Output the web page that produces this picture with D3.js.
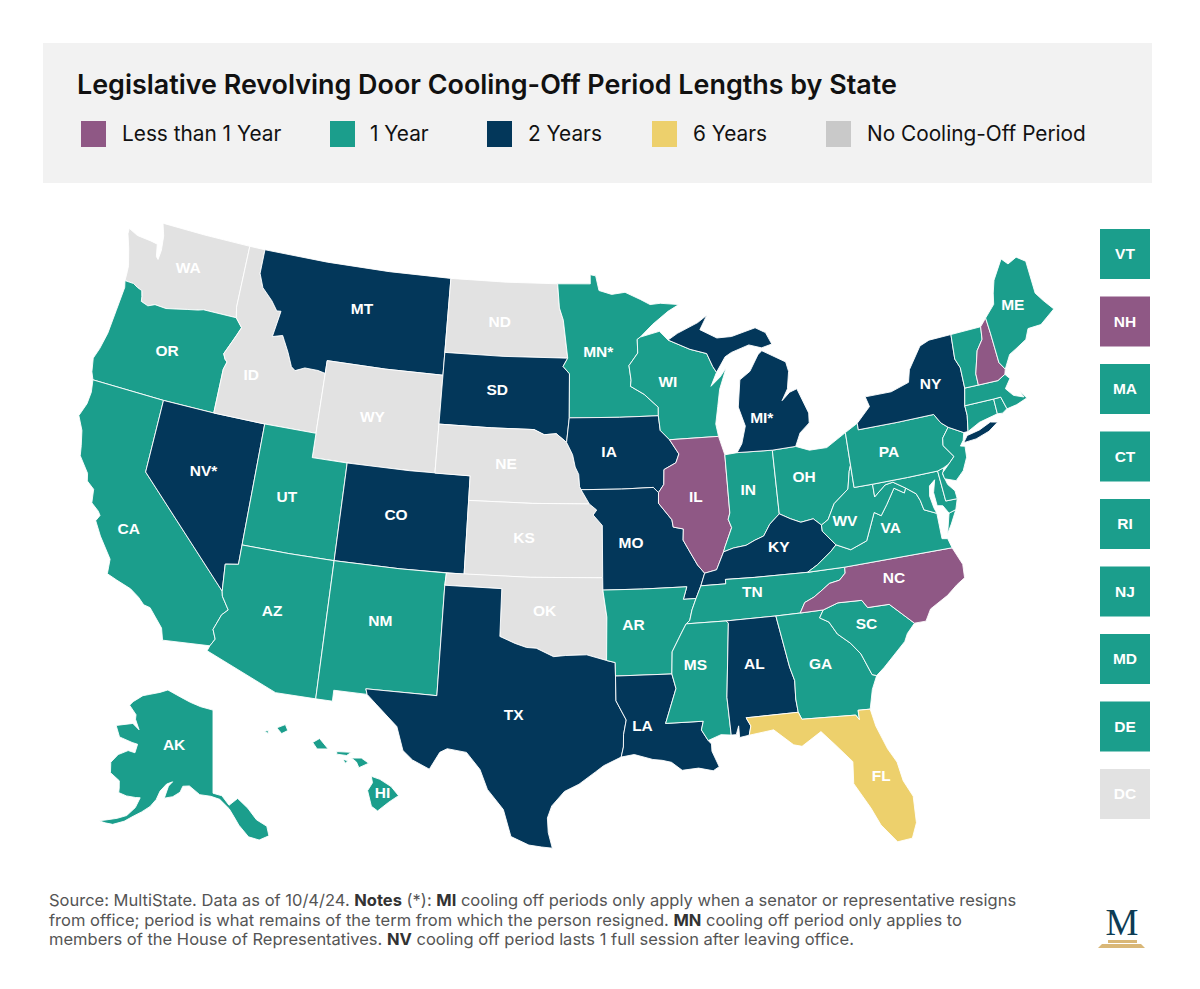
<!DOCTYPE html>
<html>
<head>
<meta charset="utf-8">
<title>Legislative Revolving Door Cooling-Off Period Lengths by State</title>
<script src="https://cdn.jsdelivr.net/npm/d3@7"></script>
<style>
    html, body { margin: 0; padding: 0; background: #fff; }
    svg { display: block; }
    text { font-family: "Inter", "Noto Sans", sans-serif; }
    .state { stroke: #fff; stroke-width: 0.9; stroke-linejoin: round; }
    .state-label, .side-label { font-family: "Liberation Sans", Arial, sans-serif; font-weight: 700; fill: #fff; text-anchor: middle; }
</style>
</head>
<body>
<div id="chart"></div>
<script>
// chart values
const periods = ["Less than 1 Year", "1 Year", "2 Years", "6 Years", "No Cooling-Off Period"];
const lessThanOneYear = ["IL", "NC", "NH"];
const oneYear = ["OR", "CA", "UT", "AZ", "NM", "AK", "HI", "MN", "WI", "AR", "MS", "TN", "IN", "OH", "GA", "SC", "WV", "VA", "PA", "ME", "VT", "MA", "CT", "RI", "NJ", "MD", "DE"];
const twoYears = ["MT", "SD", "CO", "NV", "IA", "MO", "LA", "TX", "AL", "KY", "MI", "NY"];
const sixYears = ["FL"];
const noPeriod = ["WA", "ID", "WY", "ND", "NE", "KS", "OK", "DC"];
const sideStates = ["VT", "NH", "MA", "CT", "RI", "NJ", "MD", "DE", "DC"];
const asterisked = ["MN", "MI", "NV"];
const notes = [
    [["Source: MultiState. Data as of 10/4/24. ", 0], ["Notes", 1], [" (*): ", 0], ["MI", 1], [" cooling off periods only apply when a senator or representative resigns", 0]],
    [["from office; period is what remains of the term from which the person resigned. ", 0], ["MN", 1], [" cooling off period only applies to", 0]],
    [["members of the House of Representatives. ", 0], ["NV", 1], [" cooling off period lasts 1 full session after leaving office.", 0]]
];

// state outlines, lon/lat. shared borders first so neighbours line up
const rev = a => a.slice().reverse();
const columbia = [[-124.05,46.27],[-123.5,46.26],[-123.2,46.15],[-122.9,46.08],[-122.8,45.85],[-122.75,45.65],[-122.3,45.55],[-121.9,45.68],[-121.2,45.65],[-120.6,45.74],[-119.9,45.85],[-119.3,45.93],[-118.98,46],[-116.92,46]];
const snake = [[-116.92,46],[-116.48,45.65],[-116.67,45.32],[-116.85,45.02],[-117.2,44.45],[-117.05,44.24],[-116.9,44.15],[-117.03,43.83],[-117.03,42]];
const idMt = [[-116.05,49],[-116.05,48],[-115.7,47.45],[-115,47],[-114.58,46.63],[-114.32,46.65],[-114.55,45.56],[-113.95,45.69],[-113.8,45.5],[-113.45,45.05],[-113.1,44.5],[-112.85,44.37],[-112.3,44.55],[-111.5,44.54],[-111.05,44.47]];
const colorado = [[-114.63,35],[-114.57,34.8],[-114.14,34.3],[-114.43,34.05],[-114.72,33.4],[-114.52,33.03],[-114.72,32.72]];
const pacificOR = [[-124.05,46.27],[-123.95,46],[-124.05,45],[-124.15,44],[-124.35,43.3],[-124.55,42.85],[-124.4,42.3],[-124.21,42]];
const pacificCA = [[-124.21,42],[-124.1,41.5],[-124.15,41],[-124.4,40.44],[-124,39.9],[-123.8,39.3],[-123.7,38.9],[-123.05,38.3],[-122.95,38],[-122.5,37.75],[-122.4,37.2],[-121.95,36.95],[-121.8,36.8],[-121.95,36.55],[-121.5,36],[-120.7,35.2],[-120.65,34.6],[-120.1,34.45],[-119.3,34.25],[-118.8,34],[-118.45,33.75],[-118.1,33.7],[-117.3,33],[-117.12,32.53]];
const rioGrande = [[-97.15,25.96],[-97.65,26],[-98.25,26.07],[-99.1,26.4],[-99.5,27.5],[-100.3,28.3],[-100.7,29.1],[-101.4,29.77],[-102.35,29.87],[-102.7,29.7],[-103.15,28.98],[-104,29.3],[-104.5,29.65],[-104.9,30.6],[-106,31.4],[-106.53,31.78]];
const redRiver = [[-100,34.56],[-99.2,34.3],[-98.6,34.15],[-98.1,34.13],[-97.2,33.8],[-96.6,33.85],[-95.5,33.88],[-94.48,33.64]];
const sabine = [[-94.04,33],[-94.04,31.99],[-93.55,31.2],[-93.7,30.6],[-93.72,30.1],[-93.84,29.69]];
const missouriIA = [[-96.6,42.5],[-96.25,42],[-96.1,41.5],[-95.9,41.2],[-95.85,40.7],[-95.77,40.58]];
const missouriKS = [[-95.77,40.58],[-95.31,40]];
const neTop = [[-104.05,43],[-101,43],[-98.5,43],[-97.9,42.8],[-97.2,42.85],[-96.6,42.5]];
const sdEast = [[-96.56,45.94],[-96.84,45.6],[-96.45,45.3],[-96.45,43.5]];
const ndEast = [[-97.23,49],[-97.1,48],[-96.85,47.5],[-96.56,45.94]];
const stCroix = [[-92.1,46.75],[-92.29,46.66],[-92.29,46.1],[-92.85,45.6],[-92.75,45],[-92.8,44.75],[-92,44.4],[-91.2,43.85],[-91.22,43.5]];
const missWI = [[-91.22,43.5],[-91.15,42.9],[-90.64,42.5]];
const missIA = [[-90.64,42.5],[-90.15,41.9],[-90.35,41.55],[-91.05,41.3],[-91.1,40.7],[-91.42,40.38]];
const missIL = [[-91.42,40.38],[-91.45,39.95],[-90.75,39.25],[-90.7,38.95],[-90.15,38.85],[-90.2,38.4],[-89.9,37.95],[-89.5,37.35],[-89.15,37]];
const missAR = [[-89.7,36],[-89.95,35.55],[-90.1,35.13],[-90.3,35],[-90.6,34.6],[-91.1,33.9],[-91.17,33]];
const wabash = [[-87.53,41.72],[-87.53,39.35],[-87.65,39.1],[-87.5,38.75],[-87.95,38],[-88.05,37.8]];
const ohioW = [[-89.15,37],[-88.5,37.1],[-88.05,37.8]];
const ohioIN = [[-88.05,37.8],[-87.5,37.92],[-86.8,37.98],[-86.3,38.15],[-85.8,38.28],[-85.4,38.73],[-84.82,39.1]];
const ohioOH = [[-84.82,39.1],[-84.25,38.85],[-83.7,38.65],[-83,38.72],[-82.6,38.42]];
const ohioWV = [[-82.6,38.42],[-82.2,38.6],[-81.75,39.2],[-80.87,39.7],[-80.65,40.4],[-80.52,40.64]];
const tnSouth = [[-90.3,35],[-88.2,35],[-85.6,35],[-84.32,35]];
const tnNC = [[-84.32,35],[-84.02,35.4],[-83.5,35.57],[-83.1,35.77],[-82.6,36.03],[-82.05,36.1],[-81.7,36.35],[-81.68,36.59]];
const scNorth = [[-83.11,35],[-82.3,35.2],[-81.05,35.15],[-80.8,34.82],[-79.67,34.8],[-78.55,33.86]];
const savannah = [[-83.11,35],[-83.35,34.7],[-82.9,34.48],[-82.55,33.95],[-81.95,33.5],[-81.5,33],[-81.1,32.1],[-80.88,32.03]];
const gaAlEdge = [[-85.6,35],[-85.18,32.87],[-85,32.3],[-85.05,31.55],[-85,31]];
const flNorth = [[-85,31],[-84.86,30.7],[-82.2,30.57],[-82.05,30.36],[-82.05,30.75],[-81.45,30.72]];
const delaware = [[-75.35,42],[-75.05,41.6],[-74.7,41.36],[-75.13,40.98],[-75.2,40.68],[-74.73,40.15],[-75.1,39.9],[-75.42,39.8]];
const potomac = [[-76.3,38.05],[-76.95,38.3],[-77.05,38.7],[-77.2,39],[-77.72,39.32]];
const vaWV = [[-77.72,39.32],[-77.83,39.13],[-78.35,39.4],[-78.9,38.8],[-79.3,38.4],[-79.65,38.58],[-80.3,37.5],[-81.22,37.25],[-81.97,37.54]];
const mdWV = [[-77.72,39.32],[-78.35,39.65],[-78.8,39.6],[-79.48,39.2],[-79.48,39.72]];
const kyVA = [[-83.68,36.6],[-83.1,36.85],[-82.3,37.3],[-81.97,37.54]];
const kyTN = [[-89.4,36.5],[-88.07,36.5],[-88.07,36.68],[-86.5,36.65],[-83.68,36.6]];
const nhVT = [[-71.5,45.01],[-71.6,44.5],[-72.05,44.1],[-72.45,43.2],[-72.46,42.73]];
const meNH = [[-71.08,45.3],[-71.03,44.65],[-70.98,43.4],[-70.72,43.07]];
const nyVT = [[-73.34,45.01],[-73.45,44],[-73.25,43.6],[-73.27,42.75]];
const wiMI = [[-90.4,46.57],[-89.1,46.13],[-88.1,45.9],[-87.8,45.35],[-87.6,45.1]];

const stateShapes = {
    WA: [[[-122.76,49],[-120,49],[-117.04,49],[-117.04,46.42]].concat(rev(columbia), [[-124.07,46.65],[-124.1,46.9],[-124.4,47.6],[-124.7,48.15],[-124.72,48.38],[-124.1,48.2],[-123.2,48.15],[-122.75,48.1],[-122.6,47.6],[-122.45,47.5],[-122.4,47.9],[-122.5,48.5]])],
    OR: [columbia.concat(snake, [[-120,42]], rev(pacificOR))],
    CA: [[[-124.21,42],[-120,42],[-120,39]].concat(colorado, rev(pacificCA))],
    NV: [[[-120,42],[-117.03,42],[-114.04,42],[-114.05,37],[-114.05,36.2],[-114.74,36.1],[-114.63,35],[-120,39]]],
    ID: [[[-117.04,49]].concat(idMt, [[-111.05,42],[-114.04,42]], rev(snake), [[-117.04,46.42]])],
    MT: [[[-116.05,49],[-112,49],[-108,49],[-104.05,49],[-104.05,45],[-107.5,45],[-111.05,45]].concat(rev(idMt))],
    WY: [[[-111.05,45],[-107.5,45],[-104.05,45],[-104.05,43],[-104.05,41],[-107.5,41],[-111.05,41],[-111.05,42],[-111.05,44.47]]],
    UT: [[[-114.04,42],[-111.05,42],[-111.05,41],[-109.05,41],[-109.05,37],[-111.5,37],[-114.05,37]]],
    CO: [[[-109.05,41],[-105.5,41],[-102.05,41],[-102.05,40],[-102.05,37],[-105.5,37],[-109.05,37]]],
    AZ: [[[-114.05,37],[-111.5,37],[-109.05,37],[-109.05,31.33],[-111.07,31.33],[-114.81,32.5]].concat(rev(colorado), [[-114.74,36.1],[-114.05,36.2]])],
    NM: [[[-109.05,37],[-105.5,37],[-103,37],[-103.04,36.5],[-103.04,32],[-106.62,32],[-106.53,31.78],[-108.21,31.78],[-108.21,31.33],[-109.05,31.33]]],
    ND: [[[-104.05,49],[-100.5,49]].concat(ndEast, [[-100.5,45.94],[-104.05,45.94]])],
    SD: [[[-104.05,45.94],[-100.5,45.94]].concat(sdEast, rev(neTop))],
    NE: [neTop.concat(missouriIA, missouriKS, [[-98.5,40],[-102.05,40],[-102.05,41],[-104.05,41]])],
    KS: [[[-102.05,40],[-98.5,40],[-95.31,40],[-94.9,39.75],[-95.1,39.55],[-94.6,39.12],[-94.62,37],[-98.5,37],[-102.05,37]]],
    OK: [[[-103,37],[-98.5,37],[-94.62,37],[-94.62,36.5],[-94.43,35.4]].concat(rev(redRiver), [[-100,36.5],[-103.04,36.5]])],
    TX: [[[-103.04,36.5],[-100,36.5]].concat(redRiver, [[-94.04,33.55]], sabine, [[-94.7,29.35],[-95.1,29.1],[-95.9,28.6],[-96.6,28.3],[-97.2,27.7],[-97.4,27.2],[-97.35,26.6]], rioGrande, [[-106.62,32],[-103.04,32]])],
    MN: [[[-97.23,49],[-95.15,49],[-95.15,49.38],[-94.8,49.33],[-94.6,48.72],[-93.8,48.55],[-92.95,48.62],[-92,48.3],[-91.4,48.07],[-90.75,48.1],[-89.6,48],[-90.3,47.75],[-91.3,47.25]].concat(stCroix, [[-93.5,43.5]], rev(sdEast), rev(ndEast))],
    IA: [[[-96.45,43.5],[-93.5,43.5]].concat(missWI, missIA, [[-91.7,40.6],[-93.5,40.58]], rev(missouriIA))],
    MO: [[[-95.77,40.58],[-93.5,40.58],[-91.7,40.6]].concat(missIL, [[-89.4,36.5],[-89.7,36],[-90.37,36],[-90.15,36.5],[-92.5,36.5],[-94.62,36.5],[-94.62,37],[-94.6,39.12],[-95.1,39.55],[-94.9,39.75],[-95.31,40]])],
    AR: [[[-94.62,36.5],[-92.5,36.5],[-90.15,36.5],[-90.37,36]].concat(missAR, [[-94.04,33],[-94.04,33.55],[-94.48,33.64],[-94.43,35.4]])],
    LA: [[[-94.04,33],[-91.17,33],[-91,32.4],[-91.6,31],[-89.73,31],[-89.85,30.65],[-89.55,30.2],[-89.4,30.05],[-89.4,29.75],[-89.1,29.1],[-89.4,28.95],[-90.1,29.1],[-90.9,29.05],[-91.4,29.4],[-91.85,29.5],[-92.3,29.55],[-93.2,29.78]].concat(rev(sabine))],
    WI: [[[-92.1,46.75],[-90.9,46.95],[-90.4,46.57]].concat(wiMI.slice(1), [[-88,44.55],[-87.4,44.9],[-87,45.25],[-87.5,44.4],[-87.7,43.7],[-87.9,43],[-87.8,42.49]], rev(missWI), rev(stCroix))],
    IL: [[[-90.64,42.5],[-87.8,42.49]].concat(wabash, rev(ohioW), rev(missIL), rev(missIA))],
    IN: [[[-87.53,41.72],[-86.82,41.76],[-84.8,41.7]].concat(rev(ohioIN), rev(wabash))],
    OH: [[[-84.8,41.7],[-83.45,41.73],[-82.7,41.5],[-81.7,41.5],[-80.52,41.98],[-80.52,40.64]].concat(rev(ohioWV), rev(ohioOH))],
    MI: [[[-86.82,41.76],[-86.5,42.1],[-86.2,42.8],[-86.5,43.6],[-86.25,44.7],[-85.6,45],[-85,45.65],[-84.75,45.78],[-83.4,45.2],[-83.3,44.8],[-83.5,44.1],[-83.9,43.65],[-83.4,43.95],[-82.95,44.05],[-82.45,43],[-82.5,42.6],[-83.1,42.25],[-83.45,41.73],[-84.8,41.7]],
        [[-90.4,46.57],[-89.8,46.82],[-88.5,47.2],[-87.9,47.47],[-88.4,46.9],[-87.4,46.5],[-86.5,46.5],[-85,46.75],[-84.4,46.5],[-84.1,46],[-84.75,45.9],[-85.5,46.08],[-86.6,45.85],[-87,45.7]].concat(rev(wiMI))],
    KY: [kyTN.concat(kyVA, [[-82.6,38.17]], rev(ohioOH), rev(ohioIN), rev(ohioW))],
    TN: [tnSouth.concat(tnNC, [[-83.68,36.6]], rev(kyTN), [[-89.7,36],[-89.95,35.55],[-90.1,35.13]])],
    MS: [[[-90.3,35],[-88.2,35],[-88.1,34.9],[-88.47,31.9],[-88.4,30.35],[-88.9,30.4],[-89.55,30.2],[-89.85,30.65],[-89.73,31],[-91.6,31],[-91,32.4],[-91.17,33],[-91.1,33.9],[-90.6,34.6]]],
    AL: [[[-88.2,35]].concat(gaAlEdge, [[-87.6,31],[-87.4,30.65],[-87.52,30.28],[-88,30.22],[-88,30.7],[-88.15,30.35],[-88.4,30.35],[-88.47,31.9],[-88.1,34.9]])],
    GA: [[[-85.6,35],[-84.32,35]].concat(savannah, [[-81.2,31.5]], rev(flNorth), rev(gaAlEdge))],
    FL: [[[-87.6,31]].concat(flNorth, [[-81.3,30],[-80.9,29],[-80.55,28.4],[-80.4,27.6],[-80.05,26.9],[-80.1,25.8],[-80.4,25.2],[-81.1,25.15],[-81.75,25.95],[-82.1,26.7],[-82.75,27.8],[-82.65,28.7],[-83.4,29.5],[-84,30.1],[-85,29.6],[-85.4,29.7],[-86.3,30.4],[-87.52,30.28],[-87.4,30.65]])],
    SC: [scNorth.concat([[-79,33.5],[-79.2,33.2],[-79.9,32.7],[-80.45,32.3]], rev(savannah))],
    NC: [[[-84.32,35],[-83.11,35]].concat(scNorth.slice(1), [[-77.95,33.85],[-77.6,34.3],[-76.6,34.7],[-76,35.05],[-75.55,35.25],[-75.5,35.8],[-75.87,36.55],[-81.68,36.59]], rev(tnNC))],
    VA: [[[-83.68,36.6],[-81.68,36.59],[-75.87,36.55],[-76,36.95],[-76.3,37],[-76.3,37.6]].concat(potomac, vaWV, rev(kyVA)), [[-75.25,38.03],[-75.65,37.95],[-75.95,37.15],[-75.65,37.5]]],
    WV: [[[-80.52,40.64],[-80.52,39.72],[-79.48,39.72]].concat(rev(mdWV), vaWV.slice(1), [[-82.6,38.17]], ohioWV)],
    MD: [[[-79.48,39.72],[-77.5,39.72],[-75.79,39.72],[-75.69,38.46],[-75.05,38.45],[-75.25,38.03],[-75.65,37.95],[-75.9,38.3],[-76.2,38.35],[-76.25,38.9],[-76.05,39.4],[-76.4,39.2],[-76.5,38.8],[-76.4,38.3]].concat(potomac, mdWV)],
    DE: [[[-75.79,39.72],[-75.42,39.8],[-75.55,39.55],[-75.4,39.1],[-75.08,38.78],[-75.05,38.45],[-75.69,38.46]]],
    PA: [[[-80.52,41.98],[-79.76,42.27],[-79.76,42],[-77.5,42]].concat(delaware, [[-75.79,39.72],[-77.5,39.72],[-79.48,39.72],[-80.52,39.72],[-80.52,40.64]])],
    NJ: [[[-73.9,41],[-74.7,41.36],[-75.13,40.98],[-75.2,40.68],[-74.73,40.15],[-75.1,39.9],[-75.55,39.6],[-75.5,39.35],[-74.9,39.17],[-74.4,39.5],[-74.05,40],[-74,40.45],[-74.25,40.5],[-74.03,40.7]]],
    NY: [[[-79.76,42.27],[-78.9,42.85],[-79.05,43.27],[-77.5,43.27],[-76.4,43.5],[-76.2,44],[-75.3,44.85],[-74.7,45]].concat(nyVT, [[-73.5,42.05],[-73.49,41.65],[-73.65,41],[-73.9,41],[-74.7,41.36],[-75.05,41.6],[-75.35,42],[-77.5,42],[-79.76,42]]), [[-74.03,40.6],[-73.75,40.85],[-73,40.95],[-72.3,41.15],[-71.9,41.07],[-72.5,40.8],[-73.3,40.63]]],
    CT: [[[-73.5,42.05],[-71.8,42.02],[-71.8,41.4],[-72.9,41.25],[-73.65,41],[-73.49,41.65]]],
    RI: [[[-71.8,42.02],[-71.38,42.02],[-71.2,41.5],[-71.5,41.37],[-71.8,41.4]]],
    MA: [[[-73.5,42.05],[-73.27,42.75],[-72.46,42.73],[-71.3,42.7],[-70.82,42.87],[-70.6,42.65],[-71,42.3],[-70.65,41.95],[-70.1,41.77],[-70.25,42.05],[-69.95,41.7],[-70.6,41.55],[-71.12,41.5],[-71.2,41.5],[-71.38,42.02],[-71.8,42.02]]],
    VT: [rev(nyVT).concat(nhVT)],
    NH: [[[-71.5,45.01],[-71.08,45.3]].concat(meNH.slice(1), [[-70.82,42.87],[-71.3,42.7],[-72.46,42.73]], rev(nhVT))],
    ME: [[[-71.08,45.3],[-70.4,45.75],[-70.25,46.2],[-70,46.7],[-69.23,47.46],[-68.9,47.18],[-68.3,47.35],[-67.8,47.07],[-67.8,45.7],[-67.45,45.3],[-67,44.85],[-68,44.4],[-68.8,44.4],[-69.1,44],[-69.8,43.75],[-70.25,43.6],[-70.72,43.07],[-70.98,43.4],[-71.03,44.65]]],
    AK: [[[-141,69.65],[-145,70],[-148.5,70.4],[-152,70.85],[-156.6,71.35],[-159,70.85],[-162,70.3],[-164,69.9],[-166.2,68.87],[-166.8,68.35],[-164,67.6],[-163.7,67.1],[-161.8,66.1],[-164,66.55],[-168.1,65.65],[-166.1,64.6],[-162.5,64.5],[-161,64.5],[-161,63.5],[-162.8,63.5],[-164.8,62.7],[-165.8,61.6],[-165,60.5],[-162.5,59.98],[-162,59.2],[-161.8,58.7],[-160,58.6],[-158,58.7],[-157,58.8],[-157.5,57.6],[-158.8,56.5],[-160.5,55.9],[-162.5,55.35],[-163.8,55],[-162.5,55],[-161,55.1],[-159,55.8],[-157.5,56.6],[-156,57.3],[-154.5,58.1],[-153.5,59],[-153,60],[-151.8,60.9],[-150.5,61.25],[-151.3,60.7],[-151.8,59.3],[-150,59.6],[-148.5,60.2],[-148,60.9],[-146.5,61],[-144,60.1],[-141.5,59.95],[-139.5,59.6],[-137.5,58.5],[-136.6,57.6],[-135.7,56.6],[-134,55.2],[-132,54.7],[-130,55],[-130.1,56.1],[-132,57],[-133.5,58.4],[-135.5,59.6],[-137.5,58.9],[-139,60],[-141,60.3]]],
    HI: [[[-155.9,20.25],[-155.55,20.13],[-155.1,19.85],[-154.8,19.5],[-155.2,19.25],[-155.65,18.92],[-155.9,19.1],[-156.05,19.7],[-155.85,20]], [[-156.7,20.95],[-156.3,20.95],[-156,20.75],[-156.4,20.58],[-156.5,20.8]], [[-157.3,21.2],[-156.7,21.17],[-156.9,21.05],[-157.3,21.1]], [[-157.05,20.9],[-156.85,20.85],[-156.95,20.75]], [[-158.28,21.55],[-158,21.7],[-157.65,21.3],[-158.1,21.3]], [[-159.75,22.1],[-159.4,22.23],[-159.3,22],[-159.55,21.88]], [[-160.25,21.95],[-160.1,22],[-160.1,21.88]]]
};

// where each map label sits, lon/lat
const labelAnchors = {
    WA: [-120.5,47.5], OR: [-120.5,44], CA: [-120.15,36.6], NV: [-116.9,39.6], ID: [-115.35,43.85], MT: [-109.4,47.3],
    WY: [-107.95,43], UT: [-112.1,39.25], AZ: [-111.9,34.6], CO: [-106,39.15], NM: [-106.25,34.8], ND: [-100.8,47.35],
    SD: [-100.75,44.55], NE: [-100.05,41.55], KS: [-98.9,38.6], OK: [-97.7,35.65], TX: [-99.15,31.4], MN: [-94.7,46.2],
    IA: [-94.15,42.1], MO: [-93.05,38.4], AR: [-93.05,35.05], LA: [-92.75,30.95], WI: [-90.55,44.85], IL: [-89.35,40.1],
    MS: [-89.95,33.3], MI: [-85.2,43.05], IN: [-86.4,40.2], KY: [-85.05,37.75], TN: [-86.7,36.05], AL: [-86.95,33.15],
    OH: [-83.2,40.45], GA: [-83.6,32.85], FL: [-81.4,27.95], SC: [-81,34.15], WV: [-81.3,38.45], VA: [-78.9,37.85],
    NC: [-79.2,35.8], PA: [-78.25,40.9], NY: [-75.15,43.25], ME: [-69.3,45.5], AK: [-151.5,65.3], HI: [-155.45,19.6]
};

const width = 1200, height = 989;
const svg = d3.select("#chart").append("svg")
    .attr("width", width)
    .attr("height", height);

// colour by period
const mapColor = d3.scaleOrdinal().domain(periods).range(["#8f5885", "#1b9e8c", "#03375a", "#edd06c", "#e2e2e2"]);
const legendColor = d3.scaleOrdinal().domain(periods).range(["#8f5885", "#1b9e8c", "#03375a", "#edd06c", "#c9c9c9"]);
const periodGroups = [lessThanOneYear, oneYear, twoYears, sixYears, noPeriod];
const periodOf = code => periods[periodGroups.findIndex(g => g.includes(code))];

// header
svg.append("rect").attr("x", 43).attr("y", 43).attr("width", 1109).attr("height", 140).attr("fill", "#f2f2f2");
svg.append("text")
    .attr("x", 77).attr("y", 94)
    .attr("font-size", 26.9).attr("font-weight", 600).attr("fill", "#111")
    .text("Legislative Revolving Door Cooling-Off Period Lengths by State");

const legendX = d3.scaleOrdinal().domain(periods).range([81, 330, 487, 652, 826]);
const legend = svg.append("g").selectAll("g").data(periods).enter().append("g")
    .attr("transform", d => `translate(${legendX(d)},121)`);
legend.append("rect").attr("width", 25).attr("height", 26).attr("fill", d => legendColor(d));
legend.append("text")
    .attr("x", (d, i) => i === 1 ? 40 : 41).attr("y", 20)
    .attr("font-size", 20.8).attr("fill", "#111")
    .text(d => d);

// projections: lower 48 (a touch taller than plain Albers) plus the two insets
const centerY = 536;
const lower48 = d3.geoAlbers().scale(1352).translate([566, centerY]);
const tallerY = 1.035;
const lower48Tall = {
    stream: s => lower48.stream(d3.geoTransform({
        point(x, y) { this.stream.point(x, centerY + (y - centerY) * tallerY); }
    }).stream(s))
};
const alaska = d3.geoConicEqualArea().rotate([141, 0]).center([0, 62]).parallels([55, 65]).scale(510).translate([213, 778]);
const hawaii = d3.geoConicEqualArea().rotate([157, 0]).center([-3, 19.9]).parallels([8, 18]).scale(1500).translate([270, 785]);

const pathOf = code => code === "AK" ? d3.geoPath(alaska) : code === "HI" ? d3.geoPath(hawaii) : d3.geoPath(lower48Tall);
const pointOf = code => {
    if (code === "AK") return alaska(labelAnchors[code]);
    if (code === "HI") return hawaii(labelAnchors[code]);
    const p = lower48(labelAnchors[code]);
    return [p[0], centerY + (p[1] - centerY) * tallerY];
};

// rings must wind the way d3.geo expects, or the fill covers the globe
const toFeature = code => {
    const polys = stateShapes[code].map(ring => {
        let closed = ring.concat([ring[0]]);
        if (d3.geoArea({type: "Polygon", coordinates: [closed]}) > 2 * Math.PI) closed = closed.slice().reverse();
        return [closed];
    });
    return {type: "Feature", id: code, geometry: {type: "MultiPolygon", coordinates: polys}};
};

const mapGroup = svg.append("g");
mapGroup.selectAll("path").data(Object.keys(stateShapes).map(toFeature)).enter().append("path")
    .attr("class", "state")
    .attr("d", d => pathOf(d.id)(d))
    .attr("fill", d => mapColor(periodOf(d.id)));

mapGroup.selectAll("text").data(Object.keys(labelAnchors)).enter().append("text")
    .attr("class", "state-label")
    .attr("font-size", 15.5)
    .attr("x", d => pointOf(d)[0])
    .attr("y", d => pointOf(d)[1] + 5)
    .text(d => d + (asterisked.includes(d) ? "*" : ""));

// small states column
const sideY = d3.scalePoint().domain(sideStates).range([229, 769]);
const side = svg.append("g").selectAll("g").data(sideStates).enter().append("g")
    .attr("transform", d => `translate(1100,${sideY(d)})`);
side.append("rect").attr("width", 50).attr("height", 50).attr("fill", d => mapColor(periodOf(d)));
side.append("text").attr("class", "side-label").attr("x", 25).attr("y", 30).attr("font-size", 15.5).text(d => d);

// footnote
const noteY = d3.scalePoint().domain(d3.range(notes.length)).range([906, 945]);
const noteText = svg.append("g").selectAll("text").data(notes).enter().append("text")
    .attr("x", 49).attr("y", (d, i) => noteY(i))
    .attr("font-size", 16.5).attr("fill", "#555");
noteText.selectAll("tspan").data(d => d).enter().append("tspan")
    .attr("font-weight", d => d[1] ? 700 : 400)
    .attr("fill", d => d[1] ? "#333" : "#555")
    .text(d => d[0]);

// logo
const logo = svg.append("g");
logo.append("text").attr("x", 1122).attr("y", 935).attr("text-anchor", "middle")
    .style("font-family", "Liberation Serif")
    .attr("font-size", 37).attr("fill", "#0d3c55").text("M");
logo.append("rect").attr("x", 1108).attr("y", 940).attr("width", 29).attr("height", 3).attr("fill", "#d9b777");
logo.append("path").attr("d", "M1102 944H1141L1145 948H1098Z").attr("fill", "#d9b777");
</script>
</body>
</html>
